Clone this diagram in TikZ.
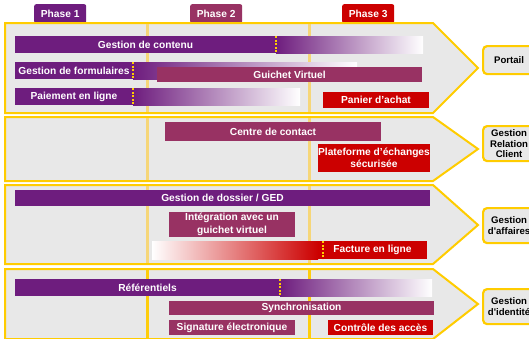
\documentclass[tikz,border=0pt]{standalone}
\usepackage{fontspec}
\setmainfont{Liberation Sans}
\definecolor{purp}{HTML}{6E1D7E}
\definecolor{maroon}{HTML}{983263}
\definecolor{redbar}{HTML}{CC0000}
\definecolor{yel}{HTML}{FFCC00}
\definecolor{fillgray}{HTML}{E8E8E8}
\definecolor{divyel}{HTML}{F6D678}
\begin{document}
\begin{tikzpicture}[x=1pt,y=-1pt,
  frame/.style={draw=yel, line width=2pt, fill=fillgray, line join=miter},
  divider/.style={draw=divyel, line width=3pt},
  marker/.style={draw=yel, line width=1.6pt, dash pattern=on 2pt off 1.6pt},
  bar/.style={anchor=north west, inner sep=0pt, outer sep=0pt, text=white,
    font=\bfseries\fontsize{10.2}{12.5}\selectfont, align=center},
  shadebar/.style={anchor=north west, inner sep=0pt, outer sep=0pt},
  fadepurp/.style={shadebar, left color=purp, middle color=purp!45!white, right color=white},
  phase/.style={anchor=north west, inner sep=0pt, rounded corners=2pt, text=white,
    font=\bfseries\fontsize{10.2}{12}\selectfont, minimum width=52pt, minimum height=19pt},
  sidebox/.style={anchor=north west, draw=yel, line width=2.2pt, fill=fillgray,
    rounded corners=4pt, inner sep=0pt, minimum width=52pt, align=center,
    font=\bfseries\fontsize{9.6}{10.7}\selectfont}]
\useasboundingbox (0,0) rectangle (529,338);

% phase tags
\node[phase, fill=purp] (ph1) at (34,4) {Phase 1};
\node[phase, fill=maroon] (ph2) at (190,4) {Phase 2};
\node[phase, fill=redbar] (ph3) at (342,4) {Phase 3};

% chevron frames
\draw[frame] (5,23) -- (433,23) -- (478,68) -- (433,113) -- (5,113) -- cycle;
\draw[frame] (5,117) -- (433,117) -- (478,149) -- (433,181) -- (5,181) -- cycle;
\draw[frame] (5,185) -- (433,185) -- (478,225) -- (433,264) -- (5,264) -- cycle;
\draw[frame] (5,269) -- (433,269) -- (478,304) -- (433,339) -- (5,339) -- cycle;

% phase dividers
\foreach \ya/\yb in {24/112, 118/180, 186/263}{
  \draw[divider] (147,\ya) -- (147,\yb);
  \draw[divider] (309,\ya) -- (309,\yb);
}
\draw[divider, draw=yel!90!divyel] (147,270) -- (147,338);
\draw[divider, draw=yel!90!divyel] (309,270) -- (309,338);

% side boxes
\node[sidebox, minimum height=28pt] (portail) at (482,45) {Portail};
\node[sidebox, minimum height=35pt] (grc) at (482,125) {Gestion\\Relation\\Client};
\node[sidebox, minimum height=35pt] (gaff) at (482,207) {Gestion\\d\textquotesingle affaires};
\node[sidebox, minimum height=35pt] (gid) at (482,288) {Gestion\\d\textquotesingle identité};

% row 1
\node[fadepurp, minimum width=147pt, minimum height=17pt] (gcg) at (276,36) {};
\node[bar, fill=purp, minimum width=261pt, minimum height=17pt] (gc) at (15,36) {Gestion de contenu};
\node[fadepurp, minimum width=224pt, minimum height=17pt] (gfg) at (133,62) {};
\node[bar, fill=purp, minimum width=118pt, minimum height=17pt] (gf) at (15,62) {Gestion de formulaires};
\node[bar, fill=maroon, minimum width=265pt, minimum height=15pt] (gv) at (157,67) {Guichet Virtuel};
\node[fadepurp, minimum width=167pt, minimum height=17pt] (plg) at (133,88) {};
\node[bar, fill=purp, minimum width=118pt, minimum height=17pt] (pl) at (15,88) {Paiement en ligne};
\node[bar, fill=redbar, minimum width=106pt, minimum height=16pt] (pa) at (323,92) {Panier d’achat};
\draw[marker] (gc.north east) -- (gc.south east);
\draw[marker] (gf.north east) -- (gf.south east);
\draw[marker] (pl.north east) -- (pl.south east);

% row 2
\node[bar, fill=maroon, minimum width=216pt, minimum height=19pt] (cc) at (165,122) {Centre de contact};
\node[bar, fill=redbar, minimum width=112pt, minimum height=28pt] (pe) at (318,144) {Plateforme d’échanges\\sécurisée};

% row 3
\node[bar, fill=purp, minimum width=415pt, minimum height=16pt] (gd) at (15,190) {Gestion de dossier / GED};
\node[bar, fill=maroon, minimum width=126pt, minimum height=25pt] (ig) at (169,212) {Intégration avec un\\guichet virtuel};
\node[shadebar, left color=white, middle color=redbar!45!white, right color=redbar, minimum width=166pt, minimum height=18pt] (flg) at (152,241) {};
\node[bar, fill=redbar, minimum width=109pt, minimum height=18pt] (fl) at (318,241) {Facture en ligne};
\coordinate (fmt) at ([xshift=5pt]fl.north west);
\coordinate (fmb) at ([xshift=5pt]fl.south west);
\draw[marker] (fmt) -- (fmb);

% row 4
\node[fadepurp, minimum width=152pt, minimum height=17pt] (rfg) at (280,279) {};
\node[bar, fill=purp, minimum width=265pt, minimum height=17pt] (rf) at (15,279) {Référentiels};
\node[bar, fill=maroon, minimum width=265pt, minimum height=14pt] (sy) at (169,301) {Synchronisation};
\node[bar, fill=maroon, minimum width=126pt, minimum height=15pt] (se) at (169,320) {Signature électronique};
\node[bar, fill=redbar, minimum width=105pt, minimum height=15pt] (ca) at (328,320) {Contrôle des accès};
\draw[marker] (rf.north east) -- (rf.south east);
\end{tikzpicture}
\end{document}
